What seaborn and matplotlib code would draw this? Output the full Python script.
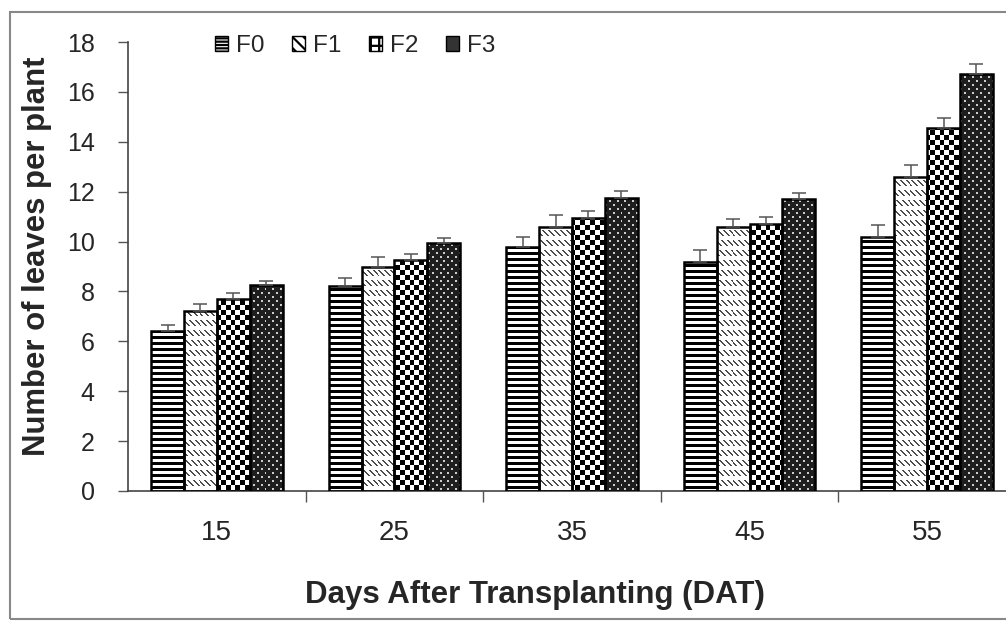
import numpy as np
import pandas as pd
import matplotlib
matplotlib.use("Agg")
import matplotlib.pyplot as plt
import seaborn as sns
from matplotlib.patches import Patch, Rectangle

# data
days = ["15", "25", "35", "45", "55"]
treatments = ["F0", "F1", "F2", "F3"]
f0_mean = [6.4, 8.2, 9.8, 9.2, 10.2]
f1_mean = [7.2, 9.0, 10.6, 10.6, 12.6]
f2_mean = [7.7, 9.25, 10.95, 10.7, 14.55]
f3_mean = [8.25, 9.95, 11.75, 11.7, 16.7]
f0_err = [0.27, 0.35, 0.40, 0.47, 0.48]
f1_err = [0.28, 0.37, 0.48, 0.32, 0.45]
f2_err = [0.23, 0.27, 0.26, 0.27, 0.41]
f3_err = [0.17, 0.20, 0.27, 0.24, 0.40]
y_ticks = [0, 2, 4, 6, 8, 10, 12, 14, 16, 18]

means = [f0_mean, f1_mean, f2_mean, f3_mean]
errs = [f0_err, f1_err, f2_err, f3_err]

df = pd.DataFrame({
    "day": days * len(treatments),
    "treatment": [t for t in treatments for _ in days],
    "leaves": [v for m in means for v in m],
})

sns.set_style("ticks")
plt.rcParams["font.family"] = ["Liberation Sans", "DejaVu Sans"]
plt.rcParams["hatch.linewidth"] = 1.6


# fill textures, 0 = black, 1 = white, in screen pixels
def tex_stripes(xx, yy):
    return np.where(yy % 6 < 3, 0.0, 1.0)


def tex_dashes(xx, yy):
    on = ((xx - yy) % 6 < 2) & (yy % 10 < 6)
    return np.where(on, 0.3, 1.0)


def tex_checker(xx, yy):
    return ((xx // 5 + yy // 5) % 2).astype(float)


def tex_dots(xx, yy):
    d1 = (xx % 8 < 2) & (yy % 8 < 2)
    d2 = ((xx + 4) % 8 < 2) & ((yy + 4) % 8 < 2)
    return np.where(d1 | d2, 0.8, 0.12)


textures = [tex_stripes, tex_dashes, tex_checker, tex_dots]

fig = plt.figure(figsize=(10.06, 6.22), dpi=100)
ax = fig.add_axes([128 / 1006, 131 / 622, 888 / 1006, 449 / 622])

sns.barplot(data=df, x="day", y="leaves", hue="treatment", order=days,
            hue_order=treatments, palette=["white"] * 4, saturation=1,
            width=0.74, edgecolor="black", linewidth=1.8, errorbar=None,
            legend=False, ax=ax)

ax.set_xlim(-0.5, 4.5)
ax.set_ylim(0, 18)

H = fig.get_figheight() * fig.dpi
bar_groups = list(ax.containers)
for i, cont in enumerate(bar_groups):
    xs, ys = [], []
    for bar in cont:
        x0, x1 = bar.get_x(), bar.get_x() + bar.get_width()
        h = bar.get_height()
        (px0, py0), (px1, py1) = ax.transData.transform([(x0, 0), (x1, h)])
        cols = np.arange(int(px0), int(np.ceil(px1)))
        rows = np.arange(int(H - py1), int(np.ceil(H - py0)))
        xx, yy = np.meshgrid(cols, rows)
        img = textures[i](xx, yy)
        im = ax.imshow(img, cmap="gray", vmin=0, vmax=1, extent=(x0, x1, 0, h),
                       origin="upper", aspect="auto", interpolation="nearest",
                       zorder=2)
        im.set_clip_path(bar)
        bar.set_facecolor("none")
        bar.set_zorder(3)
        xs.append((x0 + x1) / 2)
        ys.append(h)
    ax.errorbar(xs, ys, yerr=[np.zeros(len(ys)), errs[i]], fmt="none",
                ecolor="#555555", elinewidth=1.1, capsize=5, capthick=1.1,
                zorder=4)

ax.set_xlim(-0.5, 4.5)
ax.set_ylim(0, 18)
ax.set_yticks(y_ticks)
ax.set_xticks(range(len(days)))
ax.set_xticklabels(days)
ax.set_xticks([k + 0.5 for k in range(len(days))], minor=True)
ax.tick_params(axis="x", which="major", length=0, pad=21, labelsize=20)
ax.tick_params(axis="x", which="minor", length=8, width=1, color="#555555")
ax.tick_params(axis="y", length=7, width=1, color="#555555", pad=17,
               labelsize=18)
sns.despine(ax=ax)
for s in ["left", "bottom"]:
    ax.spines[s].set_color("#444444")
    ax.spines[s].set_linewidth(1.2)

ax.set_xlabel("Days After Transplanting (DAT)", fontsize=22.5,
              fontweight="bold")
ax.xaxis.set_label_coords(0.458, -0.199)
ax.set_ylabel("Number of leaves per plant", fontsize=22.4, fontweight="bold")
ax.yaxis.set_label_coords(-0.086, 0.523)

# legend with hatch look-alikes of the bar textures
handles = [
    Patch(facecolor="white", edgecolor="black", hatch="-----", label="F0"),
    Patch(facecolor="white", edgecolor="black", hatch="\\\\\\", label="F1"),
    Patch(facecolor="white", edgecolor="black", hatch="++", label="F2"),
    Patch(facecolor="#333333", edgecolor="black", label="F3"),
]
fig.legend(handles=handles, loc="center left",
           bbox_to_anchor=(215 / 1006, 1 - 46 / 622), ncol=4, frameon=False,
           fontsize=17.5, handlelength=0.55, handleheight=0.55,
           handletextpad=0.3, columnspacing=1.15, borderpad=0,
           borderaxespad=0)

# outer frame of the scanned figure
fig.patches.append(Rectangle((10 / 1006, 3 / 622), 1.2, 1 - 15 / 622,
                             transform=fig.transFigure, fill=False,
                             edgecolor="#888888", linewidth=1.5))

fig.savefig("out.png", dpi=100)
